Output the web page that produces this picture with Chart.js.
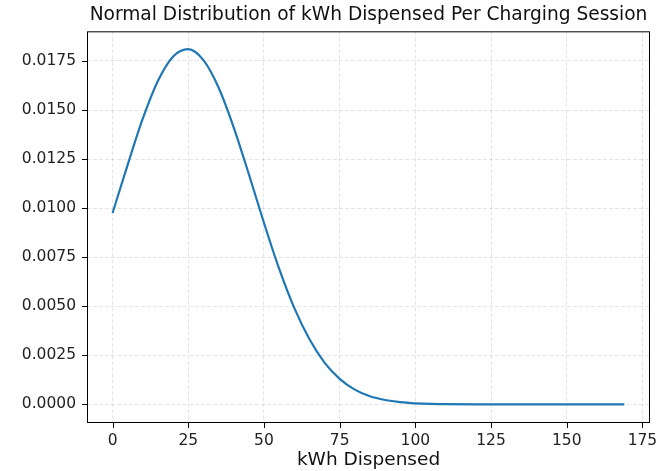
<!DOCTYPE html>
<html>
<head>
<meta charset="utf-8">
<script src="https://cdn.jsdelivr.net/npm/chart.js@4.4.0/dist/chart.umd.min.js"></script>
<style>
  html, body { margin: 0; padding: 0; background: #fff; }
  #wrap { width: 661px; height: 471px; }
</style>
</head>
<body>
<div id="wrap"><canvas id="chart"></canvas></div>
<script>
// data
const kwh = [0, 5, 10, 15, 20, 25, 30, 35, 40, 45, 50, 55, 60, 65, 70, 75, 80, 85,
  90, 95, 100, 105, 110, 120, 130, 140, 150, 160, 169];
const density = [0.00975, 0.01222, 0.01457, 0.01649, 0.01773, 0.01810, 0.01754, 0.01615,
  0.01412, 0.01173, 0.00925, 0.00692, 0.00492, 0.00333, 0.00213, 0.00130, 0.00075, 0.00041,
  0.00022, 0.00011, 0.00005, 0.00002, 0.00001, 0, 0, 0, 0, 0, 0];

const xTicks = [0, 25, 50, 75, 100, 125, 150, 175];
const yTicks = [0, 0.0025, 0.005, 0.0075, 0.01, 0.0125, 0.015, 0.0175];

const FONT = 'DejaVu Sans';
const GRID = 'rgba(0,0,0,0.1)';

// frame + outward tick marks, like matplotlib
const framePlugin = {
  id: 'frame',
  afterDraw(chart) {
    const { ctx, chartArea: a, scales } = chart;
    ctx.save();
    ctx.strokeStyle = '#000';
    ctx.lineWidth = 1;
    ctx.strokeRect(a.left + 0.5, a.top + 0.5, a.right - a.left - 1, a.bottom - a.top - 1);
    ctx.beginPath();
    xTicks.forEach(v => {
      const px = Math.round(scales.x.getPixelForValue(v)) + 0.5;
      ctx.moveTo(px, a.bottom);
      ctx.lineTo(px, a.bottom + 5);
    });
    yTicks.forEach(v => {
      const py = Math.round(scales.y.getPixelForValue(v)) + 0.5;
      ctx.moveTo(a.left, py);
      ctx.lineTo(a.left - 5, py);
    });
    ctx.stroke();
    ctx.restore();
  }
};

new Chart(document.getElementById('chart'), {
  type: 'line',
  data: {
    datasets: [{
      data: kwh.map((x, i) => ({ x, y: density[i] })),
      borderColor: '#1f77b4',
      borderWidth: 2.2,
      pointRadius: 0,
      fill: false,
      cubicInterpolationMode: 'monotone'
    }]
  },
  options: {
    responsive: true,
    maintainAspectRatio: false,
    animation: false,
    layout: { padding: { left: 0, right: 11, top: 0, bottom: 0 } },
    plugins: {
      legend: { display: false },
      tooltip: { enabled: false },
      title: {
        display: true,
        fullSize: false,
        text: 'Normal Distribution of kWh Dispensed Per Charging Session',
        color: '#111',
        font: { family: FONT, size: 18.6, weight: 'normal' },
        padding: { top: 4, bottom: 5 }
      }
    },
    scales: {
      x: {
        type: 'linear',
        min: -8.45,
        max: 177.5,
        afterBuildTicks: s => { s.ticks = xTicks.map(v => ({ value: v })); },
        afterFit: s => { s.height = 48; s.paddingLeft = 0; s.paddingRight = 0; },
        ticks: {
          color: '#222',
          font: { family: FONT, size: 15.5 },
          padding: 9,
          maxRotation: 0,
          callback: v => String(v)
        },
        grid: { color: GRID, drawTicks: false },
        border: { display: false, dash: [4, 2] },
        title: {
          display: true,
          text: 'kWh Dispensed',
          color: '#111',
          font: { family: FONT, size: 18.5 },
          padding: { top: 0, bottom: 0 }
        }
      },
      y: {
        min: -0.00095,
        max: 0.01901,
        afterBuildTicks: s => { s.ticks = yTicks.map(v => ({ value: v })); },
        afterFit: s => { s.width = 87; },
        ticks: {
          color: '#222',
          font: { family: FONT, size: 15.5 },
          padding: 11,
          callback: v => v.toFixed(4)
        },
        grid: { color: GRID, drawTicks: false },
        border: { display: false, dash: [4, 2] }
      }
    }
  },
  plugins: [framePlugin]
});
</script>
</body>
</html>
